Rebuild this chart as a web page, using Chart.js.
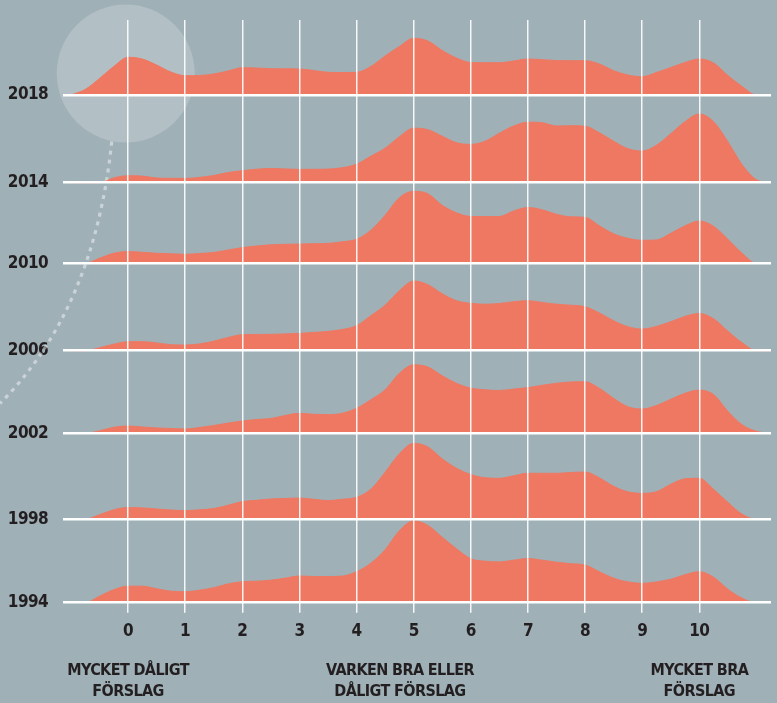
<!DOCTYPE html>
<html>
<head>
<meta charset="utf-8">
<script src="https://cdn.jsdelivr.net/npm/chart.js@4.4.1/dist/chart.umd.min.js"></script>
<style>
  html, body { margin: 0; padding: 0; background: #9fb0b7; }
  #wrap { width: 777px; height: 703px; position: relative; }
</style>
</head>
<body>
<div id="wrap"><canvas id="c" width="777" height="703"></canvas></div>
<script>
// ---- Data ----
const years = ['1994', '1998', '2002', '2006', '2010', '2014', '2018'];
// baseline of each ridge, in the same units as the ridge heights (measured upward from the 1994 baseline)
const baselines = [0, 83.4, 169.4, 252, 339.4, 420, 507.7];
// score grid (x axis)
const scores = [-1, -0.75, -0.5, -0.25, 0, 0.25, 0.5, 0.75, 1, 1.25, 1.5, 1.75, 2, 2.25, 2.5, 2.75, 3, 3.25, 3.5, 3.75,
  4, 4.25, 4.5, 4.75, 5, 5.25, 5.5, 5.75, 6, 6.25, 6.5, 6.75, 7, 7.25, 7.5, 7.75, 8, 8.25, 8.5, 8.75,
  9, 9.25, 9.5, 9.75, 10, 10.25, 10.5, 10.75, 11, 11.25];
const h1994 = [0, 0, 6.5, 13, 16.5, 16.5, 14, 11.5, 11, 12.5, 15, 18.8, 21, 21.5, 22.5, 24.5, 26.7, 26.2, 26.2, 26.6,
  31, 39.5, 53, 72, 82, 77.3, 65.5, 54, 44, 41.5, 40.8, 42.5, 44.2, 42.5, 40.5, 39, 37.7, 31, 24.5, 20.8,
  19.4, 20.8, 23.5, 28, 31, 25.5, 13.5, 4.5, 0, 0];
const h1998 = [0, 0, 4.5, 9.5, 11.7, 11.4, 10.3, 9.3, 8.7, 9.5, 10.8, 14, 17.7, 19, 20.3, 20.8, 21.3, 20, 18.7, 20,
  22, 30, 47, 65.5, 76, 72.3, 60.5, 51, 44.8, 41.5, 41, 43.5, 46, 46, 46, 46.8, 47.3, 41.5, 33, 27.5,
  26, 27.6, 35, 40.5, 41, 30, 17, 5, 0, 0];
const h2002 = [0, 0, 2.5, 6, 7.3, 6.3, 5.4, 4.8, 4.3, 5.8, 7.8, 10.2, 12.3, 13.8, 14.8, 17.8, 20, 19, 18.7, 20,
  25, 33.5, 43.5, 60, 68.5, 66.3, 57.5, 50, 45.2, 43.5, 42.8, 44.2, 45.7, 48, 50, 51.3, 51.5, 45, 35, 26.5,
  24.3, 27.8, 34, 40, 43.2, 38.7, 22, 8.5, 2, 0];
const h2006 = [0, 0, 3, 6.5, 9, 9, 7.8, 6, 5.7, 6.8, 9.5, 13.2, 16, 16.2, 16.4, 16.8, 17.3, 18.3, 19.3, 21.2,
  25, 35, 45.5, 60, 69.7, 66, 57, 50, 47.4, 46.5, 47.2, 49, 50, 48.3, 46.5, 45.5, 44, 37.8, 30, 24,
  21.7, 24.3, 29, 34.3, 37.2, 32, 19.5, 8, 0, 0];
const h2010 = [0, 0, 5, 10, 11.7, 11, 10, 9.5, 9, 9.8, 10.8, 13.3, 15.7, 17.3, 18.5, 19, 19.3, 19.6, 19.9, 21.5,
  24, 33, 48, 65.5, 72, 69.5, 58, 50.5, 46.8, 46.7, 46.8, 52.3, 55.8, 53.5, 49, 46.5, 46, 37.5, 29.5, 25,
  23, 23.3, 30, 37.5, 42.3, 37, 24, 10, 0, 0];
const h2014 = [0, 0, 0, 4.8, 7, 6.6, 4.7, 4.4, 4.3, 5.3, 7.2, 10.1, 12, 13.5, 14.2, 13.8, 13.3, 13.4, 13.6, 15,
  18.5, 26.5, 34.5, 46, 54.5, 53, 46.5, 40, 38.3, 41.5, 49.5, 56.7, 60.5, 60, 56.7, 57, 56.5, 50, 41.5, 34,
  31.7, 37.5, 49, 61, 68.7, 61, 41, 18, 3, 0];
const h2018 = [0, 5.5, 16.5, 28.5, 37.7, 36, 30, 23, 19.3, 19.5, 21, 24, 27.3, 27, 26.3, 26.2, 26, 24.5, 22.7, 22.5,
  22.7, 28.5, 39, 48.5, 56.7, 54, 44.5, 37, 32.5, 32.3, 32.3, 34, 36, 35.3, 34.5, 34.3, 34.3, 31, 24.3, 20,
  18.3, 22.5, 27.5, 32.5, 36, 32, 19.5, 8.5, 0, 0];
const heights = [h1994, h1998, h2002, h2006, h2010, h2014, h2018];
const scoreTicks = [0, 1, 2, 3, 4, 5, 6, 7, 8, 9, 10];
const noteTicks = [0, 4.76, 10];
const noteLabels = [['MYCKET DÅLIGT', 'FÖRSLAG'], ['VARKEN BRA ELLER', 'DÅLIGT FÖRSLAG'], ['MYCKET BRA', 'FÖRSLAG']];

// ---- Styles ----
const BG = '#9fb0b7';
const FILL = '#ef7862';
const INK = '#231f20';
const FONT = "'DejaVu Sans Condensed', 'Liberation Sans Narrow', 'Roboto', sans-serif";

const datasets = years.map((yr, i) => ({
  label: yr,
  data: scores.map((s, k) => ({ x: s, y: baselines[i] + heights[i][k] })),
  fill: { value: baselines[i] },
  backgroundColor: FILL,
  borderColor: FILL,
  borderWidth: 1,
  pointRadius: 0,
  cubicInterpolationMode: 'monotone'
}));

const decor = {
  id: 'decor',
  beforeDraw(chart) {
    const { ctx, width, height } = chart;
    ctx.fillStyle = BG;
    ctx.fillRect(0, 0, width, height);
    // tighter letter spacing for the condensed labels (kept in the context state)
    try { ctx.letterSpacing = '-0.6px'; } catch (e) {}
  },
  beforeDatasetsDraw(chart) {
    const { ctx, scales } = chart;
    const x = scales.x, y = scales.y;
    const cx = x.getPixelForValue(-0.04);
    const cy = y.getPixelForValue(baselines[6] + 21.5);
    const r = 69;
    ctx.save();
    ctx.fillStyle = 'rgba(255,255,255,0.2)';
    ctx.beginPath();
    ctx.arc(cx, cy, r, 0, Math.PI * 2);
    ctx.fill();
    // dotted pointer curve from the circle towards the left edge
    ctx.strokeStyle = 'rgba(255,255,255,0.45)';
    ctx.lineWidth = 3.2;
    ctx.setLineDash([4, 5]);
    ctx.beginPath();
    const sx = cx - 14, sy = cy + r - 1;
    ctx.moveTo(sx, sy);
    ctx.quadraticCurveTo(sx - 17, sy + 167, 0, sy + 262);
    ctx.stroke();
    ctx.restore();
  }
};

new Chart(document.getElementById('c'), {
  type: 'line',
  data: { datasets },
  plugins: [decor],
  options: {
    responsive: false,
    animation: false,
    devicePixelRatio: 1,
    layout: { padding: { top: 20, right: 6, left: 0, bottom: 0 } },
    plugins: { legend: { display: false }, tooltip: { enabled: false } },
    scales: {
      x: {
        type: 'linear',
        min: -1.138, max: 11.255,
        weight: 0,
        afterBuildTicks: (s) => { s.ticks = scoreTicks.map(v => ({ value: v })); },
        afterFit: (s) => { s.height = 44; s.paddingLeft = 0; s.paddingRight = 0; },
        grid: { color: 'rgba(255,255,255,0.9)', lineWidth: 1.5, tickLength: 10, drawTicks: true, z: 1 },
        border: { display: false },
        ticks: {
          autoSkip: false, maxRotation: 0, padding: 9, color: INK,
          font: { family: FONT, size: 17, weight: 'bold' },
          callback: (v) => String(v)
        }
      },
      x2: {
        type: 'linear',
        position: 'bottom',
        min: -1.138, max: 11.255,
        weight: 1,
        afterBuildTicks: (s) => { s.ticks = noteTicks.map(v => ({ value: v })); },
        afterFit: (s) => { s.height = 56.3; s.paddingLeft = 0; s.paddingRight = 0; },
        grid: { display: false, drawTicks: false },
        border: { display: false },
        ticks: {
          autoSkip: false, maxRotation: 0, padding: 14, color: INK,
          font: { family: FONT, size: 16, weight: 'bold', lineHeight: 1.3 },
          callback: (v) => { const i = noteTicks.indexOf(v); return i >= 0 ? noteLabels[i] : ''; }
        }
      },
      y: {
        type: 'linear',
        min: 0, max: 582.7,
        afterBuildTicks: (s) => { s.ticks = baselines.map(v => ({ value: v })); },
        afterFit: (s) => { s.width = 63; s.paddingTop = 0; s.paddingBottom = 0; },
        grid: { color: '#ffffff', lineWidth: 2.5, drawTicks: false, z: 1 },
        border: { display: false },
        ticks: {
          padding: 15, color: INK,
          font: { family: FONT, size: 17, weight: 'bold' },
          callback: (v) => { const i = baselines.indexOf(v); return i >= 0 ? years[i] : ''; }
        }
      }
    }
  }
});
</script>
</body>
</html>
